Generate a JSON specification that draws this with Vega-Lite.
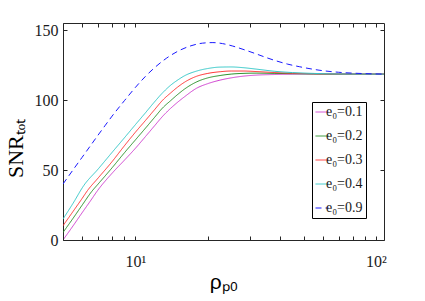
{
  "$schema": "https://vega.github.io/schema/vega-lite/v6.json",
  "width": 321,
  "height": 217,
  "autosize": "none",
  "padding": {"left": 63, "top": 23, "right": 41, "bottom": 61},
  "background": "white",
  "config": {
    "view": {"stroke": "#262626", "strokeWidth": 1},
    "axis": {"domain": false, "grid": false, "labelFont": "Liberation Serif", "labelFontSize": 16, "labelColor": "#1a1a1a", "titleColor": "#000000", "titleFontWeight": "normal"}
  },
  "data": {"values": [
    {"x": 5, "y": 0, "s": "e₀=0.1"}, {"x": 5.5, "y": 10, "s": "e₀=0.1"}, {"x": 6, "y": 19.4, "s": "e₀=0.1"}, {"x": 6.5, "y": 27.9, "s": "e₀=0.1"}, {"x": 6.96, "y": 35.3, "s": "e₀=0.1"}, {"x": 8, "y": 47.7, "s": "e₀=0.1"}, {"x": 9, "y": 57, "s": "e₀=0.1"}, {"x": 10, "y": 65.5, "s": "e₀=0.1"}, {"x": 11, "y": 73.8, "s": "e₀=0.1"}, {"x": 12, "y": 81.5, "s": "e₀=0.1"}, {"x": 13, "y": 88.5, "s": "e₀=0.1"}, {"x": 14, "y": 94, "s": "e₀=0.1"}, {"x": 15, "y": 98.5, "s": "e₀=0.1"}, {"x": 16, "y": 102.3, "s": "e₀=0.1"}, {"x": 18, "y": 108.5, "s": "e₀=0.1"}, {"x": 20, "y": 111.7, "s": "e₀=0.1"}, {"x": 22.5, "y": 114.2, "s": "e₀=0.1"}, {"x": 25, "y": 115.8, "s": "e₀=0.1"}, {"x": 28, "y": 117, "s": "e₀=0.1"}, {"x": 32, "y": 117.8, "s": "e₀=0.1"}, {"x": 38, "y": 118.2, "s": "e₀=0.1"}, {"x": 45, "y": 118.4, "s": "e₀=0.1"}, {"x": 55, "y": 118.5, "s": "e₀=0.1"}, {"x": 108, "y": 118.5, "s": "e₀=0.1"},
    {"x": 5, "y": 5.4, "s": "e₀=0.2"}, {"x": 5.5, "y": 15.4, "s": "e₀=0.2"}, {"x": 6, "y": 24.8, "s": "e₀=0.2"}, {"x": 6.6, "y": 34.9, "s": "e₀=0.2"}, {"x": 7, "y": 40, "s": "e₀=0.2"}, {"x": 8, "y": 51.6, "s": "e₀=0.2"}, {"x": 9, "y": 62.3, "s": "e₀=0.2"}, {"x": 10, "y": 71.5, "s": "e₀=0.2"}, {"x": 11, "y": 79.8, "s": "e₀=0.2"}, {"x": 12, "y": 87.5, "s": "e₀=0.2"}, {"x": 13, "y": 94.5, "s": "e₀=0.2"}, {"x": 14, "y": 99.5, "s": "e₀=0.2"}, {"x": 15, "y": 104, "s": "e₀=0.2"}, {"x": 16, "y": 107.8, "s": "e₀=0.2"}, {"x": 18, "y": 113, "s": "e₀=0.2"}, {"x": 20, "y": 115.8, "s": "e₀=0.2"}, {"x": 22.5, "y": 117.5, "s": "e₀=0.2"}, {"x": 25, "y": 118.5, "s": "e₀=0.2"}, {"x": 28, "y": 119, "s": "e₀=0.2"}, {"x": 32, "y": 119.2, "s": "e₀=0.2"}, {"x": 38, "y": 119, "s": "e₀=0.2"}, {"x": 45, "y": 118.8, "s": "e₀=0.2"}, {"x": 55, "y": 118.6, "s": "e₀=0.2"}, {"x": 70, "y": 118.5, "s": "e₀=0.2"}, {"x": 108, "y": 118.5, "s": "e₀=0.2"},
    {"x": 5, "y": 10.2, "s": "e₀=0.3"}, {"x": 5.5, "y": 20.3, "s": "e₀=0.3"}, {"x": 6, "y": 29.6, "s": "e₀=0.3"}, {"x": 6.32, "y": 35.3, "s": "e₀=0.3"}, {"x": 7, "y": 44.3, "s": "e₀=0.3"}, {"x": 8, "y": 56, "s": "e₀=0.3"}, {"x": 9, "y": 67.3, "s": "e₀=0.3"}, {"x": 10, "y": 77, "s": "e₀=0.3"}, {"x": 11, "y": 85.3, "s": "e₀=0.3"}, {"x": 12, "y": 93, "s": "e₀=0.3"}, {"x": 13, "y": 100, "s": "e₀=0.3"}, {"x": 14, "y": 105, "s": "e₀=0.3"}, {"x": 15, "y": 109.3, "s": "e₀=0.3"}, {"x": 16, "y": 112.7, "s": "e₀=0.3"}, {"x": 18, "y": 117, "s": "e₀=0.3"}, {"x": 20, "y": 119, "s": "e₀=0.3"}, {"x": 22.5, "y": 120.2, "s": "e₀=0.3"}, {"x": 25, "y": 120.7, "s": "e₀=0.3"}, {"x": 28, "y": 120.7, "s": "e₀=0.3"}, {"x": 32, "y": 120.3, "s": "e₀=0.3"}, {"x": 38, "y": 119.6, "s": "e₀=0.3"}, {"x": 45, "y": 119.1, "s": "e₀=0.3"}, {"x": 55, "y": 118.8, "s": "e₀=0.3"}, {"x": 70, "y": 118.6, "s": "e₀=0.3"}, {"x": 108, "y": 118.5, "s": "e₀=0.3"},
    {"x": 5, "y": 15, "s": "e₀=0.4"}, {"x": 5.5, "y": 26.1, "s": "e₀=0.4"}, {"x": 6.1, "y": 38.9, "s": "e₀=0.4"}, {"x": 7, "y": 50.7, "s": "e₀=0.4"}, {"x": 8, "y": 62.6, "s": "e₀=0.4"}, {"x": 9, "y": 73, "s": "e₀=0.4"}, {"x": 10, "y": 82.4, "s": "e₀=0.4"}, {"x": 11, "y": 90.8, "s": "e₀=0.4"}, {"x": 12, "y": 98.6, "s": "e₀=0.4"}, {"x": 13, "y": 105.3, "s": "e₀=0.4"}, {"x": 14, "y": 110.5, "s": "e₀=0.4"}, {"x": 15, "y": 114.3, "s": "e₀=0.4"}, {"x": 16, "y": 117.3, "s": "e₀=0.4"}, {"x": 18, "y": 120.7, "s": "e₀=0.4"}, {"x": 20, "y": 122.5, "s": "e₀=0.4"}, {"x": 22.5, "y": 123.5, "s": "e₀=0.4"}, {"x": 25, "y": 123.6, "s": "e₀=0.4"}, {"x": 28, "y": 123.1, "s": "e₀=0.4"}, {"x": 32, "y": 122, "s": "e₀=0.4"}, {"x": 38, "y": 120.5, "s": "e₀=0.4"}, {"x": 45, "y": 119.6, "s": "e₀=0.4"}, {"x": 55, "y": 119, "s": "e₀=0.4"}, {"x": 70, "y": 118.6, "s": "e₀=0.4"}, {"x": 108, "y": 118.5, "s": "e₀=0.4"},
    {"x": 5, "y": 40, "s": "e₀=0.9"}, {"x": 5.5, "y": 50, "s": "e₀=0.9"}, {"x": 6, "y": 59, "s": "e₀=0.9"}, {"x": 6.5, "y": 67.3, "s": "e₀=0.9"}, {"x": 7, "y": 75, "s": "e₀=0.9"}, {"x": 7.5, "y": 82, "s": "e₀=0.9"}, {"x": 8, "y": 88.5, "s": "e₀=0.9"}, {"x": 9, "y": 99.5, "s": "e₀=0.9"}, {"x": 10, "y": 109, "s": "e₀=0.9"}, {"x": 11, "y": 116.8, "s": "e₀=0.9"}, {"x": 12, "y": 123, "s": "e₀=0.9"}, {"x": 13.5, "y": 130, "s": "e₀=0.9"}, {"x": 15, "y": 134.8, "s": "e₀=0.9"}, {"x": 17, "y": 138.7, "s": "e₀=0.9"}, {"x": 19, "y": 140.6, "s": "e₀=0.9"}, {"x": 21, "y": 141, "s": "e₀=0.9"}, {"x": 23, "y": 140.3, "s": "e₀=0.9"}, {"x": 25.3, "y": 138.6, "s": "e₀=0.9"}, {"x": 28, "y": 136.2, "s": "e₀=0.9"}, {"x": 31.7, "y": 133, "s": "e₀=0.9"}, {"x": 35, "y": 130.3, "s": "e₀=0.9"}, {"x": 38.4, "y": 128, "s": "e₀=0.9"}, {"x": 43, "y": 125.6, "s": "e₀=0.9"}, {"x": 48, "y": 123.8, "s": "e₀=0.9"}, {"x": 58, "y": 121.3, "s": "e₀=0.9"}, {"x": 70, "y": 119.8, "s": "e₀=0.9"}, {"x": 85, "y": 119, "s": "e₀=0.9"}, {"x": 108, "y": 118.5, "s": "e₀=0.9"}
  ]},
  "resolve": {"axis": {"x": "independent", "y": "independent"}},
  "layer": [
    {
      "mark": {"type": "line", "clip": true, "interpolate": "monotone"},
      "encoding": {
        "x": {"field": "x", "type": "quantitative",
          "scale": {"type": "log", "domain": [5, 108], "nice": false},
          "axis": {"orient": "bottom", "values": [10, 100], "tickSize": 0,
            "labelExpr": "datum.value == 10 ? '10¹' : '10²'",
            "labelPadding": 13, "labelFlush": false, "labelOverlap": false,
            "title": "ρₚ₀", "titleFont": "Liberation Sans", "titleFontSize": 21, "titleBaseline": "alphabetic", "titleY": 48}},
        "y": {"field": "y", "type": "quantitative",
          "scale": {"domain": [0, 155], "nice": false, "zero": false},
          "axis": {"orient": "left", "values": [0, 50, 100, 150], "tickSize": 0, "labelPadding": 5,
            "title": "SNRₜₒₜ", "titleFont": "Liberation Serif", "titleFontSize": 22, "titleAngle": -90, "titleAlign": "center", "titleBaseline": "alphabetic", "titleX": -41, "titleY": 125}},
        "color": {"field": "s", "type": "nominal",
          "scale": {"domain": ["e₀=0.1", "e₀=0.2", "e₀=0.3", "e₀=0.4", "e₀=0.9"], "range": ["#d040d0", "#2a912a", "#ff3333", "#33c8c8", "#1a1aff"]},
          "legend": {"orient": "none", "legendX": 249, "legendY": 79, "title": null, "strokeColor": "#000000", "fillColor": "#ffffff",
            "padding": 3, "rowPadding": 10, "symbolType": "stroke", "symbolSize": 169, "labelFont": "Liberation Serif", "labelFontSize": 14, "labelColor": "#1a1a1a", "labelOffset": -3}},
        "strokeDash": {"field": "s", "type": "nominal",
          "scale": {"domain": ["e₀=0.1", "e₀=0.2", "e₀=0.3", "e₀=0.4", "e₀=0.9"], "range": [[1, 0], [1, 0], [1, 0], [1, 0], [6, 4]]},
          "legend": {"orient": "none", "legendX": 249, "legendY": 79, "title": null, "strokeColor": "#000000", "fillColor": "#ffffff",
            "padding": 3, "rowPadding": 10, "symbolType": "stroke", "symbolSize": 169, "labelFont": "Liberation Serif", "labelFontSize": 14, "labelColor": "#1a1a1a", "labelOffset": -3}},
        "strokeWidth": {"field": "s", "type": "nominal",
          "scale": {"domain": ["e₀=0.1", "e₀=0.2", "e₀=0.3", "e₀=0.4", "e₀=0.9"], "range": [1, 1, 1, 1, 2.2]},
          "legend": {"orient": "none", "legendX": 249, "legendY": 79, "title": null, "strokeColor": "#000000", "fillColor": "#ffffff",
            "padding": 3, "rowPadding": 10, "symbolType": "stroke", "symbolSize": 169, "labelFont": "Liberation Serif", "labelFontSize": 14, "labelColor": "#1a1a1a", "labelOffset": -3}}
      }
    },
    {
      "mark": {"type": "line", "opacity": 0},
      "encoding": {
        "x": {"field": "x", "type": "quantitative",
          "axis": {"orient": "top", "offset": -217, "values": [5, 6, 7, 8, 9, 10, 20, 30, 40, 50, 60, 70, 80, 90, 100], "labels": false, "tickColor": "#262626", "tickWidth": 1, "tickSize": 4, "title": null, "zindex": 2}},
        "y": {"field": "y", "type": "quantitative",
          "axis": {"orient": "right", "offset": -321, "values": [0, 50, 100, 150], "labels": false, "tickColor": "#262626", "tickWidth": 1, "tickSize": 4, "title": null, "zindex": 2}}
      }
    },
    {
      "mark": {"type": "line", "opacity": 0},
      "encoding": {
        "x": {"field": "x", "type": "quantitative",
          "axis": {"orient": "bottom", "offset": -217, "values": [5, 6, 7, 8, 9, 10, 20, 30, 40, 50, 60, 70, 80, 90, 100], "labels": false, "tickColor": "#262626", "tickWidth": 1, "tickSize": 4, "title": null, "zindex": 2}},
        "y": {"field": "y", "type": "quantitative",
          "axis": {"orient": "left", "offset": -321, "values": [0, 50, 100, 150], "labels": false, "tickColor": "#262626", "tickWidth": 1, "tickSize": 4, "title": null, "zindex": 2}}
      }
    }
  ]
}
